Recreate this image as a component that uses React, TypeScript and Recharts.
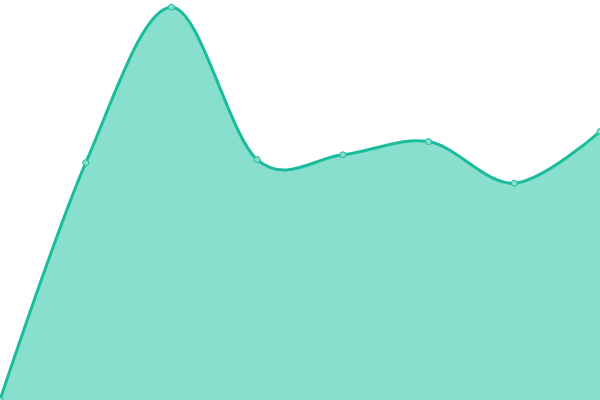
import React from 'react';
import { AreaChart, Area, XAxis, YAxis } from 'recharts';

const categories = ['A', 'B', 'C', 'D', 'E', 'F', 'G', 'H'];
const values = [0, 59.3, 98.2, 60.1, 61.3, 64.6, 54.2, 67.1];

const data = categories.map((c, i) => ({ name: c, value: values[i] }));

function makeCardinal(tension: number) {
  const k = (1 - tension) / 6;
  return function (context: any) {
    const s: any = {
      _line: NaN,
      _point: 0,
      _x0: NaN, _x1: NaN, _x2: NaN, _y0: NaN, _y1: NaN, _y2: NaN,
    };
    const seg = (x: number, y: number) => {
      context.bezierCurveTo(
        s._x1 + k * (s._x2 - s._x0),
        s._y1 + k * (s._y2 - s._y0),
        s._x2 + k * (s._x1 - x),
        s._y2 + k * (s._y1 - y),
        s._x2,
        s._y2
      );
    };
    return {
      areaStart() { s._line = 0; },
      areaEnd() { s._line = NaN; },
      lineStart() {
        s._x0 = s._x1 = s._x2 = s._y0 = s._y1 = s._y2 = NaN;
        s._point = 0;
      },
      lineEnd() {
        switch (s._point) {
          case 2: context.lineTo(s._x2, s._y2); break;
          case 3: seg(s._x1, s._y1); break;
        }
        if (s._line || (s._line !== 0 && s._point === 1)) context.closePath();
        s._line = 1 - s._line;
      },
      point(x: number, y: number) {
        x = +x; y = +y;
        switch (s._point) {
          case 0:
            s._point = 1;
            if (s._line) context.lineTo(x, y); else context.moveTo(x, y);
            break;
          case 1:
            s._point = 2; s._x1 = x; s._y1 = y;
            break;
          case 2:
            s._point = 3;
            seg(x, y);
            break;
          default:
            seg(x, y);
            break;
        }
        s._x0 = s._x1; s._x1 = s._x2; s._x2 = x;
        s._y0 = s._y1; s._y1 = s._y2; s._y2 = y;
      },
    };
  };
}

const cardinal = makeCardinal(0);

export default function App() {
  return (
    <div style={{ position: 'fixed', left: 0, top: 0, width: 600, height: 400 }}>
      <AreaChart width={600} height={400} data={data} margin={{ top: 0, right: 0, bottom: 0, left: 0 }}>
        <XAxis dataKey="name" hide />
        <YAxis hide domain={[0, 100]} />
        <Area
          type={cardinal as any}
          dataKey="value"
          stroke="#1abc9c"
          strokeWidth={3}
          fill="#88dfce"
          fillOpacity={1}
          dot={{ r: 3, fill: '#88dfce', stroke: '#1abc9c', strokeWidth: 1, fillOpacity: 1 }}
          activeDot={false}
          isAnimationActive={false}
        />
      </AreaChart>
    </div>
  );
}
